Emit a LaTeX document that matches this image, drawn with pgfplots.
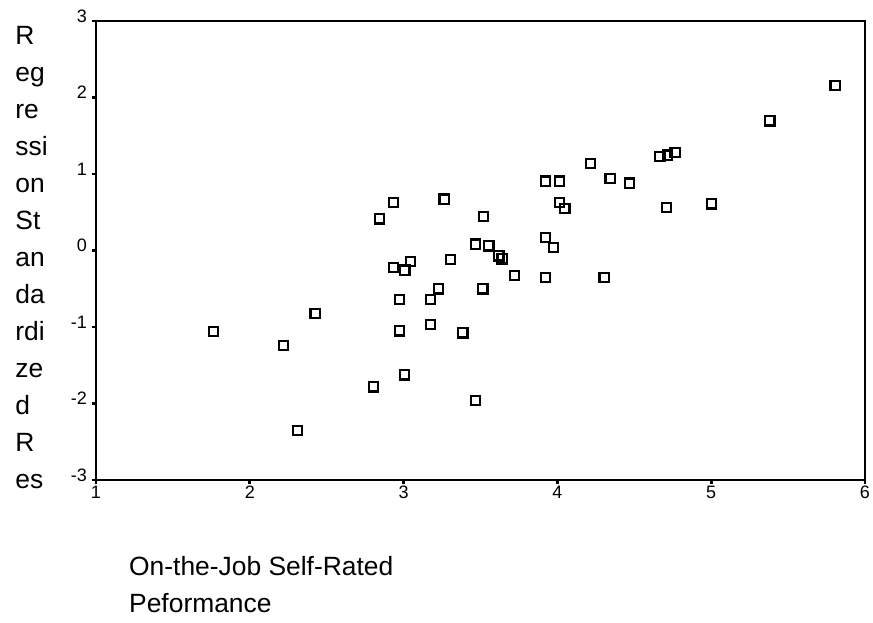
\documentclass[border=0pt]{standalone}
\usepackage{fontspec}
\setmainfont{Liberation Sans}
\usepackage{pgfplots}
\pgfplotsset{compat=1.18}
\begin{document}
\begin{tikzpicture}
\begin{axis}[
    at={(0,0)}, anchor=south west,
    scale only axis,
    width=384.5pt, height=229.5pt,
    xmin=1, xmax=6, ymin=-3, ymax=3,
    xtick={1,2,3,4,5,6},
    ytick={-3,-2,-1,0,1,2,3},
    tick align=outside,
    xtick pos=left, ytick pos=left,
    major tick length=2pt,
    axis line style={line width=1.3pt},
    every tick/.style={line width=1.3pt, black},
    /pgf/number format/assume math mode=true,
    ticklabel style={font=\fontsize{9}{10}\selectfont},
    yticklabel style={yshift=2.5pt, xshift=1pt},
    xticklabel style={yshift=2.5pt},
    xlabel={On-the-Job Self-Rated\\Peformance},
    xlabel style={at={(axis description cs:0.034,-0.15)}, anchor=north west,
        align=left, font=\fontsize{13.2}{18.5}\selectfont},
    ylabel={R\\eg\\re\\ssi\\on\\St\\an\\da\\rdi\\ze\\d\\R\\es},
    ylabel style={at={(axis description cs:-0.114,0.484)}, anchor=west,
        rotate=-90, align=left, font=\fontsize{13.2}{18.5}\selectfont},
]
\addplot[only marks, mark=square, mark size=2.3pt,
    mark options={line width=1.1pt, black}]
    coordinates {
    (1.763,-1.061) (2.220,-1.239) (2.309,-2.356) (2.424,-0.821)
    (2.804,-1.782) (2.845,0.412) (2.933,0.625) (2.933,-0.225)
    (2.972,-0.638) (2.972,-1.052) (3.009,-0.255) (3.007,-1.627)
    (3.046,-0.146) (3.174,-0.970) (3.174,-0.638) (3.226,-0.503)
    (3.263,0.673) (3.304,-0.120) (3.386,-1.078) (3.466,-1.963)
    (3.469,0.085) (3.518,0.442) (3.516,-0.503) (3.555,0.059)
    (3.620,-0.070) (3.640,-0.110) (3.720,-0.324) (3.924,0.908)
    (3.921,0.167) (3.921,-0.356) (3.973,0.037) (4.012,0.908)
    (4.012,0.630) (4.049,0.552) (4.216,1.140) (4.303,-0.356)
    (4.342,0.939) (4.467,0.882) (4.667,1.226) (4.715,1.248)
    (4.765,1.278) (4.711,0.559) (5.001,0.608) (5.382,1.693)
    (5.805,2.154)
    };
\end{axis}
\pgfresetboundingbox
\path (-48pt,-71pt) rectangle (388.5pt,240pt);
\end{tikzpicture}
\end{document}
